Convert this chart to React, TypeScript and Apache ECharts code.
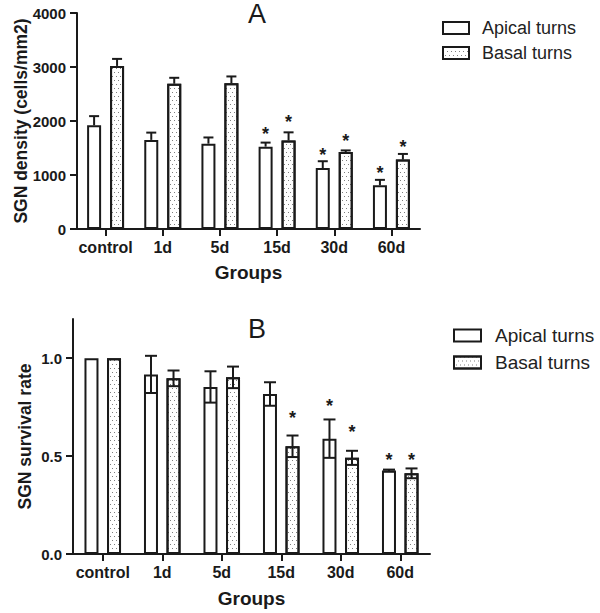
import React, { useEffect, useRef } from "react";
import * as echarts from "echarts";

const categories = ["control", "1d", "5d", "15d", "30d", "60d"];
const seriesNames = ["Apical turns", "Basal turns"];

// Panel A: SGN density (cells/mm2), mean and upper error
const densityApical = [1920, 1650, 1580, 1525, 1130, 810];
const densityApicalErr = [170, 135, 115, 75, 125, 100];
const densityBasal = [3020, 2690, 2700, 1640, 1425, 1285];
const densityBasalErr = [130, 110, 125, 150, 30, 105];
const densityApicalStar = [null, null, null, 1830, 1450, 1110];
const densityBasalStar = [null, null, null, 2050, 1700, 1600];
const densityTicks = [0, 1000, 2000, 3000, 4000];

// Panel B: SGN survival rate, mean and error
const survivalApical = [1.0, 0.917, 0.853, 0.817, 0.589, 0.426];
const survivalApicalErr = [0, 0.095, 0.08, 0.06, 0.098, 0.005];
const survivalBasal = [1.0, 0.897, 0.902, 0.55, 0.491, 0.412];
const survivalBasalErr = [0, 0.04, 0.055, 0.055, 0.036, 0.025];
const survivalApicalStar = [null, null, null, null, 0.777, 0.5];
const survivalBasalStar = [null, null, null, 0.714, 0.642, 0.5];
const survivalTicks = [0, 0.5, 1.0];

const FONT = "'Liberation Sans', Arial, Helvetica, sans-serif";
const INK = "#1a1a1a";
const BAR_W = 14;
const GAP_A = 0.64;
const GAP_B = 0.61;
const OFF_A = (BAR_W * (1 + GAP_A)) / 2;
const OFF_B = (BAR_W * (1 + GAP_B)) / 2;

const decal = {
  symbol: "rect",
  symbolSize: 1,
  dashArrayX: [
    [1, 3],
    [0, 2, 1, 1],
  ],
  dashArrayY: [1, 3],
  color: "rgba(0,0,0,0.5)",
};

function errSeries(
  means: number[],
  errs: number[],
  sign: number,
  off: number,
  both: boolean,
  cap: number,
  axis: number
) {
  return {
    type: "custom",
    xAxisIndex: axis,
    yAxisIndex: axis,
    z: 5,
    silent: true,
    data: means.map((m, i) => [i, m, errs[i]]),
    renderItem: (params: any, api: any) => {
      const i = api.value(0);
      const m = api.value(1);
      const e = api.value(2);
      if (!e) return null;
      const c = api.coord([i, m]);
      const x = c[0] + sign * off;
      const top = api.coord([i, m + e])[1];
      const bot = both ? api.coord([i, m - e])[1] : c[1];
      const st = { stroke: INK, lineWidth: 2 };
      const children: any[] = [
        { type: "line", shape: { x1: x, y1: top, x2: x, y2: bot }, style: st },
        { type: "line", shape: { x1: x - cap, y1: top, x2: x + cap, y2: top }, style: st },
      ];
      if (both)
        children.push({
          type: "line",
          shape: { x1: x - cap, y1: bot, x2: x + cap, y2: bot },
          style: st,
        });
      return { type: "group", children };
    },
  };
}

function starSeries(stars: (number | null)[], sign: number, off: number, axis: number) {
  return {
    type: "custom",
    xAxisIndex: axis,
    yAxisIndex: axis,
    z: 6,
    silent: true,
    data: stars.map((s, i) => (s == null ? [i, "-"] : [i, s])),
    renderItem: (params: any, api: any) => {
      const i = api.value(0);
      const s = api.value(1);
      if (s == null || isNaN(s)) return null;
      const c = api.coord([i, s]);
      return {
        type: "text",
        x: c[0] + sign * off,
        y: c[1] + 4,
        style: {
          text: "*",
          fontSize: 18,
          fontWeight: "bold",
          fontFamily: FONT,
          fill: INK,
          align: "center",
          verticalAlign: "middle",
        },
      };
    },
  };
}

function barSeries(name: string, data: number[], axis: number, gap: number, dotted: boolean) {
  return {
    type: "bar",
    name,
    xAxisIndex: axis,
    yAxisIndex: axis,
    data,
    barWidth: BAR_W,
    barGap: Math.round(gap * 100) + "%",
    itemStyle: {
      color: "#ffffff",
      borderColor: INK,
      borderWidth: 2,
      ...(dotted ? { decal } : {}),
    },
  };
}

export default function App() {
  const ref = useRef<HTMLDivElement>(null);

  useEffect(() => {
    if (!ref.current) return;
    const chart = echarts.init(ref.current, null, { renderer: "svg" });

    const axisLine = { show: true, lineStyle: { color: INK, width: 2 } };
    const axisTick = { show: true, length: 7, lineStyle: { color: INK, width: 2 } };
    const catLabel = {
      interval: 0,
      fontSize: 16,
      fontWeight: "bold",
      fontFamily: FONT,
      color: INK,
      margin: 10,
    };
    const valLabel = { fontSize: 15, fontWeight: "bold", fontFamily: FONT, color: INK, margin: 11 };
    const nameStyle = { fontSize: 19, fontWeight: "bold", fontFamily: FONT, color: INK };
    const yNameStyle = { fontSize: 17.5, fontWeight: "bold", fontFamily: FONT, color: INK };
    const legendBase = {
      orient: "vertical",
      icon: "rect",
      itemHeight: 12,
      padding: 0,
      data: seriesNames,
      itemStyle: { borderWidth: 2, borderColor: INK },
    };

    chart.setOption({
      animation: false,
      backgroundColor: "#ffffff",
      title: [
        {
          text: "A",
          left: 252,
          top: -5,
          textAlign: "center",
          textStyle: { fontSize: 27, fontWeight: "normal", fontFamily: FONT, color: INK },
        },
        {
          text: "B",
          left: 252,
          top: 310,
          textAlign: "center",
          textStyle: { fontSize: 27, fontWeight: "normal", fontFamily: FONT, color: INK },
        },
      ],
      legend: [
        {
          ...legendBase,
          left: 442,
          top: 19,
          itemWidth: 26,
          itemGap: 7,
          textStyle: { fontSize: 18, fontFamily: FONT, color: "#222", padding: [0, 0, 0, 8] },
        },
        {
          ...legendBase,
          left: 453,
          top: 326,
          itemWidth: 27,
          itemGap: 8,
          textStyle: { fontSize: 19, fontFamily: FONT, color: "#222", padding: [0, 0, 0, 9] },
        },
      ],
      grid: [
        { left: 77, right: 180, top: 13, bottom: 384 },
        { left: 73, right: 170, top: 319, bottom: 59 },
      ],
      xAxis: [
        {
          type: "category",
          gridIndex: 0,
          data: categories,
          axisLine,
          axisTick: { ...axisTick, alignWithLabel: true },
          axisLabel: catLabel,
          name: "Groups",
          nameLocation: "middle",
          nameGap: 34,
          nameMoveOverlap: false,
          nameTextStyle: nameStyle,
        },
        {
          type: "category",
          gridIndex: 1,
          data: categories,
          axisLine,
          axisTick: { ...axisTick, alignWithLabel: true },
          axisLabel: catLabel,
          name: "Groups",
          nameLocation: "middle",
          nameGap: 35,
          nameMoveOverlap: false,
          nameTextStyle: nameStyle,
        },
      ],
      yAxis: [
        {
          type: "value",
          gridIndex: 0,
          min: densityTicks[0],
          max: densityTicks[densityTicks.length - 1],
          interval: 1000,
          axisLine,
          axisTick,
          splitLine: { show: false },
          axisLabel: { ...valLabel, formatter: (v: number) => String(v) },
          name: "SGN density (cells/mm2)",
          nameLocation: "middle",
          nameGap: 47,
          nameMoveOverlap: false,
          nameTextStyle: yNameStyle,
        },
        {
          type: "value",
          gridIndex: 1,
          min: 0,
          max: 1.2,
          axisLine,
          axisTick: { ...axisTick, customValues: survivalTicks },
          splitLine: { show: false },
          axisLabel: {
            ...valLabel,
            customValues: survivalTicks,
            formatter: (v: number) => v.toFixed(1),
          },
          name: "SGN survival rate",
          nameLocation: "middle",
          nameGap: 39,
          nameMoveOverlap: false,
          nameTextStyle: yNameStyle,
        },
      ],
      series: [
        barSeries(seriesNames[0], densityApical, 0, GAP_A, false),
        barSeries(seriesNames[1], densityBasal, 0, GAP_A, true),
        barSeries(seriesNames[0], survivalApical, 1, GAP_B, false),
        barSeries(seriesNames[1], survivalBasal, 1, GAP_B, true),
        errSeries(densityApical, densityApicalErr, -1, OFF_A, false, 5, 0),
        errSeries(densityBasal, densityBasalErr, 1, OFF_A, false, 5, 0),
        errSeries(survivalApical, survivalApicalErr, -1, OFF_B, true, 6, 1),
        errSeries(survivalBasal, survivalBasalErr, 1, OFF_B, true, 6, 1),
        starSeries(densityApicalStar, -1, OFF_A, 0),
        starSeries(densityBasalStar, 1, OFF_A, 0),
        starSeries(survivalApicalStar, -1, OFF_B, 1),
        starSeries(survivalBasalStar, 1, OFF_B, 1),
      ],
    });

    return () => chart.dispose();
  }, []);

  return (
    <div
      ref={ref}
      style={{ position: "fixed", left: 0, top: 0, width: 600, height: 613, background: "#fff" }}
    />
  );
}
